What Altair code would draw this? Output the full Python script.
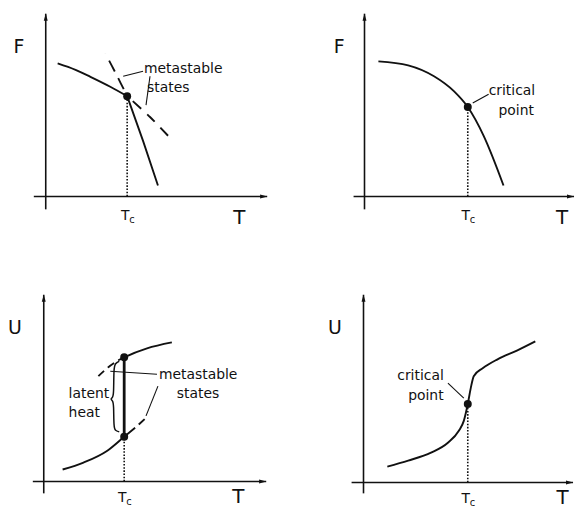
import altair as alt
import pandas as pd

INK = "#111111"
FONT = "DejaVu Sans"
LEFT_W, RIGHT_W, PANEL_H = 289, 281, 250

# ---------------- Panel 1: F(T), first-order transition ----------------
P1_T_DOMAIN = [-3.7, 25.2]
P1_V_DOMAIN = [-6.4, 18.6]
P1_AXIS_T = [-1.2, 22.3]
P1_AXIS_V = [-1.3, 18.4]
P1_TC, P1_FC = 8.2, 10.1
P1_LOW_T = [1.2, 3.0, 4.5, 6.5, 8.2]
P1_LOW_F = [13.4, 12.75, 12.05, 11.05, 10.1]
P1_HIGH_T = [8.2, 9.8, 11.3]
P1_HIGH_F = [10.1, 5.6, 1.1]
P1_META_A_T = [8.2, 7.1, 6.0]
P1_META_A_F = [10.1, 12.3, 14.4]
P1_META_B_T = [8.2, 10.5, 12.7]
P1_META_B_F = [10.1, 8.0, 5.7]
P1_LEAD1_T = [7.8, 9.8]
P1_LEAD1_F = [12.1, 12.6]
P1_LEAD2_T = [10.5, 10.1]
P1_LEAD2_F = [12.1, 9.2]
P1_NOTE = ["metastable", "states"]
P1_NOTE_T = [9.9, 10.2]
P1_NOTE_F = [12.8, 10.9]
P1_YLABEL = ("F", -2.7, 15.0)
P1_XLABEL = ("T", 19.5, -2.15)
P1_TC_LABEL_V = -2.0

# ---------------- Panel 2: F(T), second-order transition ----------------
P2_T_DOMAIN = [-6.9, 21.2]
P2_V_DOMAIN = [-6.4, 18.6]
P2_AXIS_T = [-1.1, 21.1]
P2_AXIS_V = [-1.3, 18.4]
P2_TC, P2_FC = 10.4, 9.0
P2_CURVE_T = [1.4, 4.4, 7.0, 9.0, 10.4, 12.0, 14.0]
P2_CURVE_F = [13.6, 13.2, 12.1, 10.6, 9.0, 6.1, 1.1]
P2_LEAD_T = [10.9, 12.5]
P2_LEAD_F = [9.4, 10.3]
P2_NOTE = ["critical", "point"]
P2_NOTE_T = [12.5, 13.5]
P2_NOTE_F = [10.6, 8.6]
P2_YLABEL = ("F", -2.55, 15.0)
P2_XLABEL = ("T", 19.9, -2.2)
P2_TC_LABEL_V = -2.0

# ---------------- Panel 3: U(T), first-order transition ----------------
P3_T_DOMAIN = [-3.5, 25.4]
P3_V_DOMAIN = [-2.7, 22.3]
P3_AXIS_T = [-1.1, 22.4]
P3_AXIS_V = [-1.2, 18.8]
P3_TC, P3_U_LOW, P3_U_HIGH = 8.1, 4.5, 12.5
P3_LOW_T = [1.9, 4.0, 6.4, 8.1, 9.2]
P3_LOW_U = [1.2, 1.9, 3.1, 4.5, 5.4]
P3_LOW_META_T = [9.2, 10.4]
P3_LOW_META_U = [5.4, 6.5]
P3_HIGH_T = [7.5, 8.1, 10.4, 12.9]
P3_HIGH_U = [12.2, 12.5, 13.4, 14.0]
P3_HIGH_META_T = [7.5, 6.5, 5.5]
P3_HIGH_META_U = [12.2, 11.5, 10.6]
P3_BRACE_T = [7.6, 7.2, 7.05, 7.05, 6.95, 6.7, 6.95, 7.05, 7.05, 7.2, 7.6]
P3_BRACE_U = [12.1, 11.9, 11.4, 8.9, 8.45, 8.3, 8.15, 7.7, 5.5, 5.1, 5.0]
P3_LEAD1_T = [6.7, 11.4]
P3_LEAD1_U = [11.1, 10.8]
P3_LEAD2_T = [11.5, 10.3]
P3_LEAD2_U = [9.6, 6.6]
P3_NOTE = ["latent", "heat", "metastable", "states"]
P3_NOTE_T = [2.5, 2.5, 11.6, 13.4]
P3_NOTE_U = [8.8, 6.9, 10.7, 8.8]
P3_YLABEL = ("U", -2.9, 15.4)
P3_XLABEL = ("T", 19.6, -1.55)
P3_TC_LABEL_V = -1.65

# ---------------- Panel 4: U(T), second-order transition ----------------
P4_T_DOMAIN = [-6.8, 21.3]
P4_V_DOMAIN = [-2.6, 22.4]
P4_AXIS_T = [-1.2, 21.1]
P4_AXIS_V = [-1.1, 18.9]
P4_TC, P4_UC = 10.5, 7.9
P4_CURVE_T = [2.4, 4.5, 6.8, 8.5, 9.6, 10.1, 10.5, 10.8, 11.1, 12.0, 13.5, 15.5, 17.3]
P4_CURVE_U = [1.6, 2.2, 3.0, 4.0, 5.2, 6.2, 7.9, 9.5, 10.7, 11.5, 12.4, 13.3, 14.2]
P4_LEAD_T = [8.5, 10.1]
P4_LEAD_U = [10.0, 8.5]
P4_NOTE = ["critical", "point"]
P4_NOTE_T = [3.4, 4.5]
P4_NOTE_U = [10.7, 8.7]
P4_YLABEL = ("U", -2.87, 15.5)
P4_XLABEL = ("T", 20.05, -1.55)
P4_TC_LABEL_V = -1.65

ARROW_UP = "M0,-1L0.55,1L-0.55,1Z"
ARROW_RIGHT = "M1,0L-1,0.55L-1,-0.55Z"


def sc(dom):
    return alt.Scale(domain=dom, nice=False, zero=False, padding=0)


def enc(ch, xd, yd, **extra):
    return ch.encode(
        x=alt.X("t:Q", scale=sc(xd), axis=None),
        y=alt.Y("v:Q", scale=sc(yd), axis=None),
        **extra,
    )


def curve(t, v, xd, yd, width=1.9, dash=None, offset=None, interp="monotone"):
    df = pd.DataFrame({"t": t, "v": v, "i": list(range(len(t)))})
    kw = dict(color=INK, strokeWidth=width, interpolate=interp, strokeCap="butt")
    if dash is not None:
        kw["strokeDash"] = dash
    if offset is not None:
        kw["strokeDashOffset"] = offset
    return enc(alt.Chart(df).mark_line(**kw), xd, yd, order=alt.Order("i:Q"))


def dots(t, v, xd, yd, size=64):
    df = pd.DataFrame({"t": t, "v": v})
    return enc(alt.Chart(df).mark_circle(size=size, color=INK, opacity=1), xd, yd)


def texts(t, v, labels, xd, yd, size=14, align="left", dx=0, dy=0):
    df = pd.DataFrame({"t": t, "v": v, "s": labels})
    return enc(
        alt.Chart(df).mark_text(
            align=align, baseline="middle", font=FONT, fontSize=size, color=INK, dx=dx, dy=dy
        ),
        xd, yd, text="s:N",
    )


def arrow(t, v, shape, xd, yd):
    df = pd.DataFrame({"t": [t], "v": [v]})
    return enc(
        alt.Chart(df).mark_point(shape=shape, filled=True, size=52, color=INK, opacity=1, strokeWidth=0),
        xd, yd,
    )


def frame(axis_t, axis_v, ylabel, xlabel, tc, vc, tc_label_v, xd, yd):
    return [
        curve([0, 0], axis_v, xd, yd, width=1.6, interp="linear"),
        curve(axis_t, [0, 0], xd, yd, width=1.6, interp="linear"),
        arrow(0, axis_v[1] - 0.35, ARROW_UP, xd, yd),
        arrow(axis_t[1] - 0.35, 0, ARROW_RIGHT, xd, yd),
        texts([ylabel[1]], [ylabel[2]], [ylabel[0]], xd, yd, size=19, align="center"),
        texts([xlabel[1]], [xlabel[2]], [xlabel[0]], xd, yd, size=20, align="center"),
        texts([tc], [tc_label_v], ["T"], xd, yd, size=14, align="center", dx=-2),
        texts([tc], [tc_label_v], ["c"], xd, yd, size=10, align="left", dx=2, dy=4),
        curve([tc, tc], [0, vc], xd, yd, width=1.6, dash=[1.6, 1.6], interp="linear"),
    ]


def panel(layers, width):
    return alt.layer(*layers).properties(width=width, height=PANEL_H)


xd, yd = P1_T_DOMAIN, P1_V_DOMAIN
p1 = panel(
    frame(P1_AXIS_T, P1_AXIS_V, P1_YLABEL, P1_XLABEL, P1_TC, P1_FC, P1_TC_LABEL_V, xd, yd)
    + [
        curve(P1_LOW_T, P1_LOW_F, xd, yd),
        curve(P1_HIGH_T, P1_HIGH_F, xd, yd, interp="linear"),
        curve(P1_META_A_T, P1_META_A_F, xd, yd, dash=[12, 8], offset=12, interp="cardinal"),
        curve(P1_META_B_T, P1_META_B_F, xd, yd, dash=[11, 8], offset=11, interp="cardinal"),
        curve(P1_LEAD1_T, P1_LEAD1_F, xd, yd, width=1.1, interp="linear"),
        curve(P1_LEAD2_T, P1_LEAD2_F, xd, yd, width=1.1, interp="linear"),
        dots([P1_TC], [P1_FC], xd, yd),
        texts(P1_NOTE_T, P1_NOTE_F, P1_NOTE, xd, yd),
    ],
    LEFT_W,
)

xd, yd = P2_T_DOMAIN, P2_V_DOMAIN
p2 = panel(
    frame(P2_AXIS_T, P2_AXIS_V, P2_YLABEL, P2_XLABEL, P2_TC, P2_FC, P2_TC_LABEL_V, xd, yd)
    + [
        curve(P2_CURVE_T, P2_CURVE_F, xd, yd),
        curve(P2_LEAD_T, P2_LEAD_F, xd, yd, width=1.1, interp="linear"),
        dots([P2_TC], [P2_FC], xd, yd),
        texts(P2_NOTE_T, P2_NOTE_F, P2_NOTE, xd, yd),
    ],
    RIGHT_W,
)

xd, yd = P3_T_DOMAIN, P3_V_DOMAIN
p3 = panel(
    frame(P3_AXIS_T, P3_AXIS_V, P3_YLABEL, P3_XLABEL, P3_TC, P3_U_LOW, P3_TC_LABEL_V, xd, yd)
    + [
        curve(P3_LOW_T, P3_LOW_U, xd, yd),
        curve(P3_LOW_META_T, P3_LOW_META_U, xd, yd, dash=[8, 5], offset=8, interp="linear"),
        curve(P3_HIGH_T, P3_HIGH_U, xd, yd),
        curve(P3_HIGH_META_T, P3_HIGH_META_U, xd, yd, dash=[8, 5], offset=8, interp="cardinal"),
        curve([P3_TC, P3_TC], [P3_U_LOW, P3_U_HIGH], xd, yd, width=2.8, interp="linear"),
        curve(P3_BRACE_T, P3_BRACE_U, xd, yd, width=1.5, interp="basis"),
        curve(P3_LEAD1_T, P3_LEAD1_U, xd, yd, width=1.1, interp="linear"),
        curve(P3_LEAD2_T, P3_LEAD2_U, xd, yd, width=1.1, interp="linear"),
        dots([P3_TC, P3_TC], [P3_U_LOW, P3_U_HIGH], xd, yd),
        texts(P3_NOTE_T, P3_NOTE_U, P3_NOTE, xd, yd),
    ],
    LEFT_W,
)

xd, yd = P4_T_DOMAIN, P4_V_DOMAIN
p4 = panel(
    frame(P4_AXIS_T, P4_AXIS_V, P4_YLABEL, P4_XLABEL, P4_TC, P4_UC, P4_TC_LABEL_V, xd, yd)
    + [
        curve(P4_CURVE_T, P4_CURVE_U, xd, yd),
        curve(P4_LEAD_T, P4_LEAD_U, xd, yd, width=1.1, interp="linear"),
        dots([P4_TC], [P4_UC], xd, yd),
        texts(P4_NOTE_T, P4_NOTE_U, P4_NOTE, xd, yd),
    ],
    RIGHT_W,
)

chart = (
    alt.concat(p1, p2, p3, p4, columns=2, spacing=0, bounds="flush")
    .properties(padding=0, background="white")
    .configure_view(stroke=None)
)

chart.save("out.html", embed_options={"renderer": "svg", "actions": False})
